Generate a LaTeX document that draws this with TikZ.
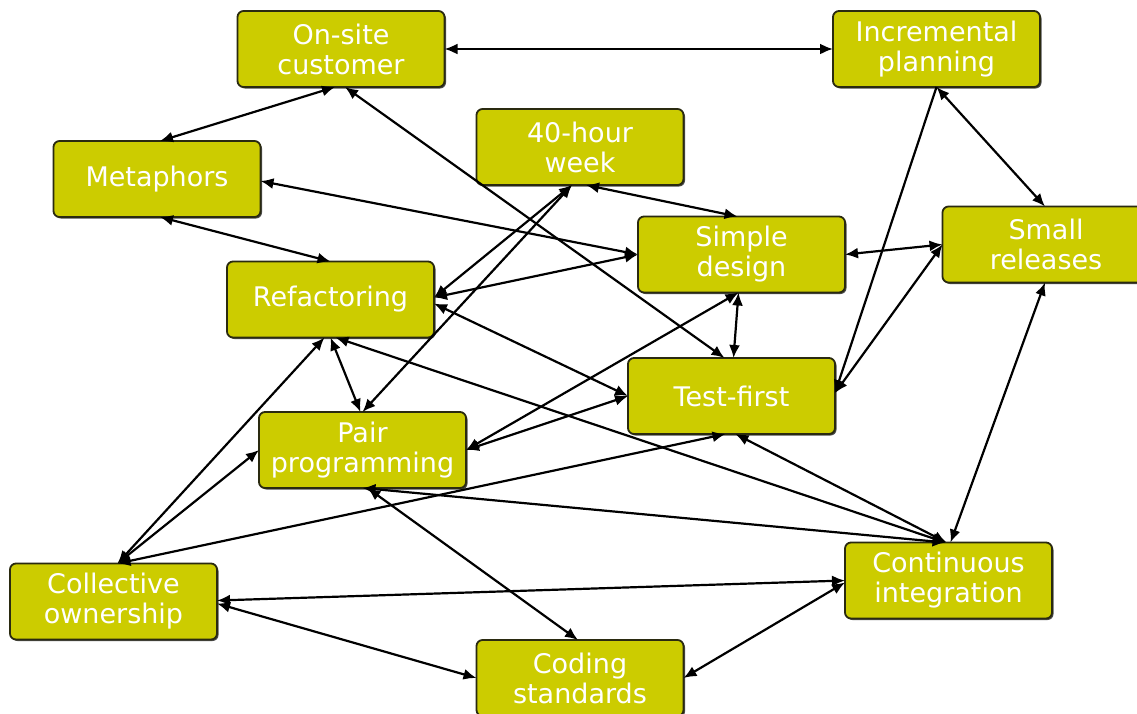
\documentclass[tikz,border=0pt]{standalone}
\usepackage{fontspec}
\setmainfont{DejaVu Sans}
\usetikzlibrary{arrows.meta,shadows}
\definecolor{boxfill}{HTML}{CCCC00}
\definecolor{boxline}{HTML}{2A2A10}
\begin{document}
\begin{tikzpicture}[x=1pt,y=-1pt,
  xpbox/.style={draw=boxline, line width=1.8pt, fill=boxfill, rounded corners=6pt,
    minimum width=207pt, minimum height=76pt, inner sep=0pt, outer sep=0pt,
    text=white, align=center, font=\fontsize{27}{30}\selectfont,
    drop shadow={shadow xshift=1.5pt, shadow yshift=-1.5pt, fill=black!70, opacity=1}},
  link/.style={line width=2.2pt, black, {Latex[length=13pt,width=11pt]}-{Latex[length=13pt,width=11pt]}},
  onelink/.style={line width=2.2pt, black, -{Latex[length=13pt,width=11pt]}}]
\useasboundingbox (0,0) rectangle (1137,713);
\clip (0,0) rectangle (1137,713);
\fill[white] (0,0) rectangle (1137,713);

\node[xpbox] (ons) at (341,49) {On-site\\customer};
\node[xpbox] (inc) at (936.5,49) {Incremental\\planning};
\node[xpbox] (met) at (157,179) {Metaphors};
\node[xpbox] (fort) at (580,147) {40-hour\\week};
\node[xpbox] (sim) at (741.5,254.5) {Simple\\design};
\node[xpbox] (sml) at (1046,244.5) {Small\\releases};
\node[xpbox] (ref) at (330.5,299.5) {Refactoring};
\node[xpbox] (tf) at (731.5,396) {Test-first};
\node[xpbox] (pp) at (362.5,450) {Pair\\programming};
\node[xpbox] (co) at (113.5,601.5) {Collective\\ownership};
\node[xpbox] (ci) at (948.5,580.5) {Continuous\\integration};
\node[xpbox] (cs) at (580,678) {Coding\\standards};

\draw[link] (ons.east) -- (inc.west);
\draw[link] ([xshift=-6pt]ons.south) -- ([xshift=3pt]met.north);
\draw[link] ([xshift=4pt]ons.south) -- ([xshift=-7pt]tf.north);
\draw[link] (inc.south) -- ([xshift=-1pt]sml.north);
\draw[onelink] (inc.south) -- ([yshift=3pt]tf.east);
\draw[link] ([yshift=-2pt]met.east) -- (sim.west);
\draw[link] ([xshift=3pt]met.south) -- (ref.north);
\draw[link] ([xshift=6pt]fort.south) -- ([xshift=-4pt]sim.north);
\draw[link] ([xshift=-8pt]fort.south) -- ([yshift=2pt]ref.east);
\draw[link] ([xshift=-8pt]fort.south) -- (pp.north);
\draw[link] ([yshift=2pt]ref.east) -- (sim.west);
\draw[link] ([yshift=-4pt]ref.east) -- (tf.west);
\draw[link] (ref.south) -- ([xshift=-2pt]pp.north);
\draw[link] ([xshift=5pt]ref.south) -- ([xshift=-3pt]ci.north);
\draw[link] (sim.east) -- (sml.west);
\draw[link] ([xshift=-3pt]sim.south) -- ([xshift=2pt]tf.north);
\draw[link] ([xshift=-3pt]sim.south) -- (pp.east);
\draw[link] ([xshift=-1pt]sml.south) -- ([xshift=2pt]ci.north);
\draw[link] (sml.west) -- ([yshift=3pt]tf.east);
\draw[link] (tf.west) -- (pp.east);
\draw[link] ([xshift=4pt]tf.south) -- ([xshift=-2pt]ci.north);
\draw[link] ([xshift=-6pt]tf.south) -- ([xshift=4pt]co.north);
\draw[link] (pp.south) -- ([xshift=-3pt]ci.north);
\draw[link] ([xshift=5pt]pp.south) -- ([xshift=-2pt]cs.north);
\draw[link] (pp.west) -- ([xshift=4pt]co.north);
\draw[link] ([xshift=-6pt]ref.south) -- ([xshift=4pt]co.north);
\draw[link] ([yshift=1pt]co.east) -- (ci.west);
\draw[link] ([yshift=-2pt]co.east) -- (cs.west);
\draw[link] (cs.east) -- ([yshift=-2pt]ci.west);
\end{tikzpicture}
\end{document}
